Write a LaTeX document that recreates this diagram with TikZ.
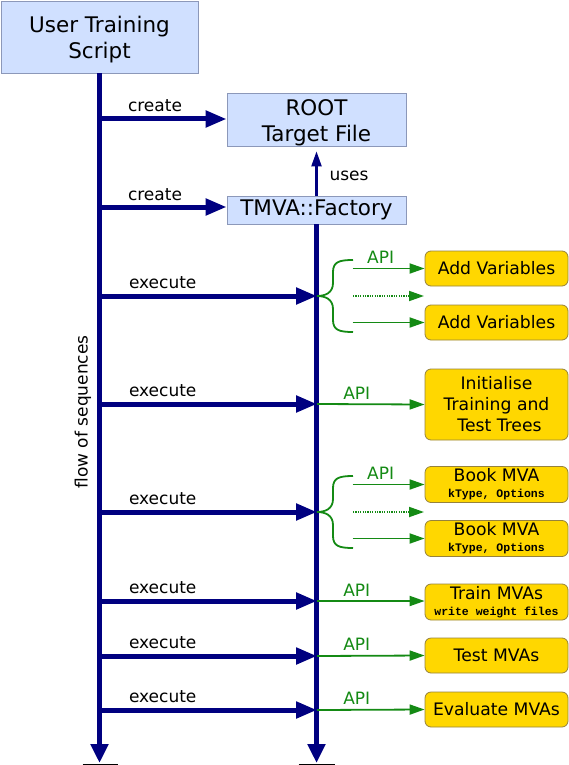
\documentclass[tikz,border=0pt]{standalone}
\usepackage{fontspec}
\setmainfont{DejaVu Sans}
\newfontfamily\monof{Liberation Mono}
\usetikzlibrary{arrows.meta,calc}
\definecolor{navyc}{RGB}{0,0,128}
\definecolor{lightblue}{RGB}{208,224,255}
\definecolor{bluebd}{RGB}{140,152,185}
\definecolor{goldc}{RGB}{255,215,0}
\definecolor{goldbd}{RGB}{150,130,60}
\definecolor{apigreen}{RGB}{20,138,20}
\begin{document}
\begin{tikzpicture}[x=1pt,y=-1pt,
  bluebox/.style={draw=bluebd, fill=lightblue, line width=0.8pt, inner sep=0pt, align=center, font=\fontsize{21.5}{26}\selectfont},
  yellowbox/.style={draw=goldbd, fill=goldc, rounded corners=6pt, line width=0.8pt, minimum width=143pt, inner sep=0pt, align=center, font=\fontsize{17.2}{21}\selectfont},
  lbl/.style={font=\fontsize{17}{20}\selectfont, inner sep=0pt, text=black},
  apilbl/.style={font=\fontsize{17}{20}\selectfont, inner sep=0pt, text=apigreen},
  flow/.style={navyc, line width=5pt, -{Triangle[length=21pt,width=16pt]}},
  life/.style={navyc, line width=5pt, -{Triangle[length=19pt,width=17pt]}},
  apiline/.style={apigreen, line width=1.8pt},
  api/.style={apigreen, line width=1.8pt, -{Triangle[length=15pt,width=10pt]}},
  apidot/.style={apigreen, line width=1.8pt, dash pattern=on 1.2pt off 1.2pt, -{Triangle[length=15pt,width=10pt]}}
]
\useasboundingbox (0,0) rectangle (569,765);
\newcommand\mtxt[1]{{\monof\bfseries\fontsize{11.5}{13}\selectfont #1}}

% blue boxes
\node[bluebox, minimum width=197pt, minimum height=72pt] (User) at (99.5,37) {\rule{0pt}{22pt}User Training\\Script};
\node[bluebox, minimum width=179pt, minimum height=53pt] (Root) at (316.5,119.5) {\rule{0pt}{22pt}ROOT\\Target File};
\node[bluebox, minimum width=179pt, minimum height=28pt] (Fac) at (316.5,210) {TMVA::Factory};

% yellow boxes
\node[yellowbox, minimum height=35pt] (AV1) at (496.5,268.5) {Add Variables};
\node[yellowbox, minimum height=35pt] (AV2) at (496.5,322.5) {Add Variables};
\node[yellowbox, minimum height=71pt] (Init) at (496.5,404.5) {Initialise\\Training and\\\hspace*{6pt}Test Trees};
\node[yellowbox, minimum height=36pt] (BM1) at (496.5,484.5) {Book MVA\\[-5pt]\mtxt{kType, Options}};
\node[yellowbox, minimum height=36pt] (BM2) at (496.5,538.5) {Book MVA\\[-5pt]\mtxt{kType, Options}};
\node[yellowbox, minimum height=36pt] (Train) at (496.5,602) {Train MVAs\\[-5pt]\mtxt{write weight files}};
\node[yellowbox, minimum height=35pt] (Test) at (496.5,655.5) {Test MVAs};
\node[yellowbox, minimum height=35pt] (Eval) at (496.5,709.5) {Evaluate MVAs};

% coordinates
\coordinate (bot) at (0,763);
\coordinate (c1) at (227,119);
\coordinate (c2) at (227,207);
\coordinate (e1) at (317,296);
\coordinate (e2) at (317,404);
\coordinate (e3) at (317,512);
\coordinate (e4) at (317,601);
\coordinate (e5) at (317,656);
\coordinate (e6) at (317,710);

% create arrows
\draw[flow] (User.south |- c1) -- (Root.west |- c1) node[lbl, pos=0, anchor=base west, xshift=26pt, yshift=7pt] {create};
\draw[flow] (User.south |- c2) -- (Fac.west |- c2) node[lbl, pos=0, anchor=base west, xshift=26pt, yshift=7pt] {create};

% execute arrows
\foreach \e in {e1,e2,e3,e4,e5,e6}{
  \draw[flow] (User.south |- \e) -- (\e) node[lbl, pos=0, anchor=base west, xshift=27pt, yshift=8pt] {execute};
}

% lifelines
\draw[life] (User.south) -- (User.south |- bot) coordinate (Lend);
\draw[life] (Fac.south) -- (Fac.south |- bot) coordinate (Rend);
\draw[black, line width=1pt] ([xshift=-17pt,yshift=-1pt]Lend) -- ([xshift=18pt,yshift=-1pt]Lend);
\draw[black, line width=1pt] ([xshift=-18pt,yshift=-1pt]Rend) -- ([xshift=18pt,yshift=-1pt]Rend);

% uses
\draw[navyc, line width=2.2pt, -{Triangle[length=15pt,width=10pt]}, shorten >=5pt] (Fac.north) -- (Root.south) node[lbl, pos=0.4, anchor=west, xshift=12pt] {uses};

\node[lbl, rotate=90] (flowlbl) at (83,412) {flow of sequences};

% braces
\foreach \e/\ta/\tb/\d in {e1/AV1/AV2/d1, e3/BM1/BM2/d3}{
  \draw[apiline] ($(\e)+(36,-36)$) .. controls ($(\e)+(22,-36)$) and ($(\e)+(16,-34)$) .. ($(\e)+(16,-24)$)
     -- ($(\e)+(16,-13)$) .. controls ($(\e)+(16,-3)$) and ($(\e)+(8,0)$) .. (\e)
     .. controls ($(\e)+(8,0)$) and ($(\e)+(16,3)$) .. ($(\e)+(16,13)$)
     -- ($(\e)+(16,24)$) .. controls ($(\e)+(16,34)$) and ($(\e)+(22,36)$) .. ($(\e)+(36,36)$);
  \coordinate (\d s) at ($(\e)+(36,0)$);
  \coordinate (\d) at ($(\e)+(107,0)$);
  \draw[api] ([xshift=-72pt]\ta.west) -- (\ta.west) node[apilbl, pos=0.39, anchor=base, yshift=5pt] {API};
  \draw[api] ([xshift=-72pt]\tb.west) -- (\tb.west);
  \draw[apidot] (\d s) -- (\d);
}

% single API arrows
\draw[api] (e2) -- (Init.west) node[apilbl, pos=0.37, anchor=base, yshift=5pt] {API};
\draw[api] (e4) -- (Train.west |- e4) node[apilbl, pos=0.37, anchor=base, yshift=5pt] {API};
\draw[api] (e5) -- (Test.west) node[apilbl, pos=0.37, anchor=base, yshift=5pt] {API};
\draw[api] (e6) -- (Eval.west) node[apilbl, pos=0.37, anchor=base, yshift=5pt] {API};
\end{tikzpicture}
\end{document}
